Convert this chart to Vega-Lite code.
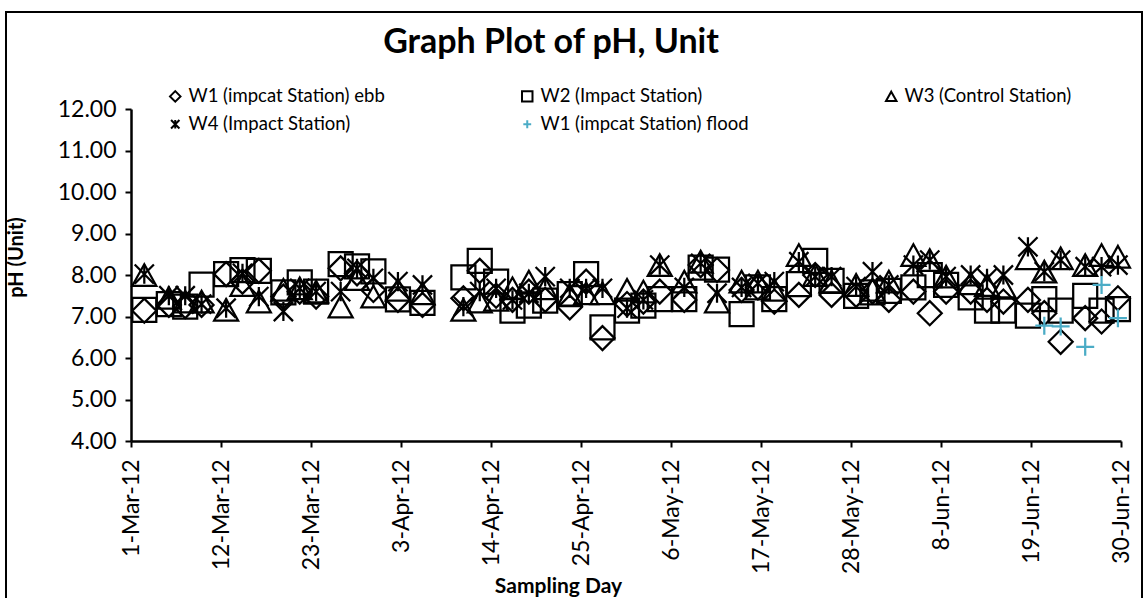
{
  "$schema": "https://vega.github.io/schema/vega-lite/v6.json",
  "width": 1136,
  "height": 590,
  "autosize": "none",
  "padding": {"left": 6, "top": 12, "right": 6, "bottom": 0},
  "background": "white",
  "title": {"text": "Graph Plot of pH, Unit", "font": "Lato", "fontSize": 34, "fontWeight": "bold", "color": "black", "anchor": "middle", "dx": -23, "offset": -75, "baseline": "alphabetic"},
  "data": {"values": [
    {"date": "2012-03-02T15:00", "W1e": 7.14, "W2": 7.16, "W3": 8.00, "W4": 8.02},
    {"date": "2012-03-05T15:00", "W1e": 7.28, "W2": 7.30, "W3": 7.45, "W4": 7.50},
    {"date": "2012-03-07T15:00", "W1e": 7.25, "W2": 7.24, "W3": 7.36, "W4": 7.50},
    {"date": "2012-03-09T15:00", "W1e": 7.28, "W2": 7.77, "W3": 7.36, "W4": 7.30},
    {"date": "2012-03-12T15:00", "W1e": 8.02, "W2": 8.02, "W3": 7.16, "W4": 7.20},
    {"date": "2012-03-14T15:00", "W1e": 7.84, "W2": 8.12, "W3": 7.76, "W4": 8.04},
    {"date": "2012-03-16T15:00", "W1e": 8.10, "W2": 8.10, "W3": 7.36, "W4": 7.48},
    {"date": "2012-03-19T15:00", "W1e": 7.48, "W2": 7.58, "W3": 7.64, "W4": 7.12},
    {"date": "2012-03-21T15:00", "W1e": 7.60, "W2": 7.82, "W3": 7.68, "W4": 7.68},
    {"date": "2012-03-23T15:00", "W1e": 7.48, "W2": 7.60, "W3": 7.60, "W4": 7.60},
    {"date": "2012-03-26T15:00", "W1e": 8.16, "W2": 8.26, "W3": 7.24, "W4": 7.60},
    {"date": "2012-03-28T15:00", "W1e": 8.04, "W2": 8.21, "W3": 7.90, "W4": 8.16},
    {"date": "2012-03-30T15:00", "W1e": 7.64, "W2": 8.09, "W3": 7.48, "W4": 7.92},
    {"date": "2012-04-02T15:00", "W1e": 7.40, "W2": 7.41, "W3": 7.64, "W4": 7.84},
    {"date": "2012-04-05T15:00", "W1e": 7.28, "W2": 7.33, "W3": 7.56, "W4": 7.76},
    {"date": "2012-04-10T15:00", "W1e": 7.44, "W2": 7.94, "W3": 7.16, "W4": 7.24},
    {"date": "2012-04-12T15:00", "W1e": 8.10, "W2": 8.34, "W3": 7.36, "W4": 7.60},
    {"date": "2012-04-14T15:00", "W1e": 7.50, "W2": 7.84, "W3": 7.40, "W4": 7.68},
    {"date": "2012-04-16T15:00", "W1e": 7.40, "W2": 7.14, "W3": 7.68, "W4": 7.40},
    {"date": "2012-04-18T15:00", "W1e": 7.60, "W2": 7.26, "W3": 7.84, "W4": 7.56},
    {"date": "2012-04-20T15:00", "W1e": 7.40, "W2": 7.38, "W3": 7.68, "W4": 7.96},
    {"date": "2012-04-23T15:00", "W1e": 7.22, "W2": 7.54, "W3": 7.52, "W4": 7.68},
    {"date": "2012-04-25T15:00", "W1e": 7.84, "W2": 8.02, "W3": 7.56, "W4": 7.68},
    {"date": "2012-04-27T15:00", "W1e": 6.48, "W2": 6.74, "W3": 7.56, "W4": 7.68},
    {"date": "2012-04-30T15:00", "W1e": 7.30, "W2": 7.14, "W3": 7.64, "W4": 7.20},
    {"date": "2012-05-02T15:00", "W1e": 7.36, "W2": 7.26, "W3": 7.60, "W4": 7.40},
    {"date": "2012-05-04T15:00", "W1e": 7.60, "W2": 7.42, "W3": 8.24, "W4": 8.24},
    {"date": "2012-05-07T15:00", "W1e": 7.40, "W2": 7.42, "W3": 7.84, "W4": 7.70},
    {"date": "2012-05-09T15:00", "W1e": 8.24, "W2": 8.18, "W3": 8.32, "W4": 8.28},
    {"date": "2012-05-11T15:00", "W1e": 8.12, "W2": 8.13, "W3": 7.36, "W4": 7.56},
    {"date": "2012-05-14T15:00", "W1e": 7.64, "W2": 7.06, "W3": 7.84, "W4": 7.70},
    {"date": "2012-05-16T15:00", "W1e": 7.70, "W2": 7.70, "W3": 7.84, "W4": 7.80},
    {"date": "2012-05-18T15:00", "W1e": 7.36, "W2": 7.42, "W3": 7.64, "W4": 7.84},
    {"date": "2012-05-21T15:00", "W1e": 7.52, "W2": 7.78, "W3": 8.48, "W4": 8.32},
    {"date": "2012-05-23T15:00", "W1e": 8.00, "W2": 8.34, "W3": 8.00, "W4": 7.96},
    {"date": "2012-05-25T15:00", "W1e": 7.52, "W2": 7.86, "W3": 7.84, "W4": 7.96},
    {"date": "2012-05-28T15:00", "W1e": 7.52, "W2": 7.50, "W3": 7.76, "W4": 7.72},
    {"date": "2012-05-30T15:00", "W1e": 7.60, "W2": 7.58, "W3": 7.64, "W4": 8.08},
    {"date": "2012-06-01T15:00", "W1e": 7.40, "W2": 7.62, "W3": 7.84, "W4": 7.76},
    {"date": "2012-06-04T15:00", "W1e": 7.60, "W2": 7.70, "W3": 8.48, "W4": 8.24},
    {"date": "2012-06-06T15:00", "W1e": 7.08, "W2": 8.00, "W3": 8.36, "W4": 8.36},
    {"date": "2012-06-08T15:00", "W1e": 7.60, "W2": 7.76, "W3": 7.96, "W4": 7.96},
    {"date": "2012-06-11T15:00", "W1e": 7.60, "W2": 7.46, "W3": 7.80, "W4": 8.00},
    {"date": "2012-06-13T15:00", "W1e": 7.40, "W2": 7.14, "W3": 7.76, "W4": 7.92},
    {"date": "2012-06-15T15:00", "W1e": 7.36, "W2": 7.14, "W3": 7.72, "W4": 8.00},
    {"date": "2012-06-18T15:00", "W1e": 7.40, "W2": 7.02, "W3": 8.40, "W4": 8.68},
    {"date": "2012-06-20T15:00", "W1e": 7.08, "W2": 7.42, "W3": 8.08, "W4": 8.08, "W1f": 6.78},
    {"date": "2012-06-22T15:00", "W1e": 6.39, "W2": 7.14, "W3": 8.40, "W4": 8.36, "W1f": 6.76},
    {"date": "2012-06-25T15:00", "W1e": 6.96, "W2": 7.50, "W3": 8.24, "W4": 8.20, "W1f": 6.27},
    {"date": "2012-06-27T15:00", "W1e": 6.88, "W2": 7.14, "W3": 8.48, "W4": 8.20, "W1f": 7.76},
    {"date": "2012-06-29T15:00", "W1e": 7.44, "W2": 7.18, "W3": 8.44, "W4": 8.24, "W1f": 6.96}
  ]},
  "transform": [
    {"fold": ["W1e", "W2", "W3", "W4", "W1f"], "as": ["series", "pH"]},
    {"filter": "isValid(datum.pH)"}
  ],
  "mark": {"type": "point", "filled": false, "size": 576, "strokeWidth": 2.25, "opacity": 1},
  "encoding": {
    "x": {
      "field": "date", "type": "temporal",
      "scale": {"domain": [{"year": 2012, "month": 3, "date": 1}, {"year": 2012, "month": 6, "date": 30}], "range": [125, 1115], "nice": false},
      "axis": {
        "offset": -161, "values": [
          {"year": 2012, "month": 3, "date": 1}, {"year": 2012, "month": 3, "date": 12}, {"year": 2012, "month": 3, "date": 23},
          {"year": 2012, "month": 4, "date": 3}, {"year": 2012, "month": 4, "date": 14}, {"year": 2012, "month": 4, "date": 25},
          {"year": 2012, "month": 5, "date": 6}, {"year": 2012, "month": 5, "date": 17}, {"year": 2012, "month": 5, "date": 28},
          {"year": 2012, "month": 6, "date": 8}, {"year": 2012, "month": 6, "date": 19}, {"year": 2012, "month": 6, "date": 30}
        ],
        "format": "%-d-%b-%y", "labelAngle": 270, "labelAlign": "right", "labelBaseline": "middle",
        "labelPadding": 12, "labelFont": "Lato", "labelFontSize": 23, "labelColor": "black",
        "labelFlush": false, "labelOverlap": false, "labelBound": false,
        "tickSize": 6, "tickWidth": 2, "tickColor": "black", "domainColor": "black", "domainWidth": 2.5,
        "grid": false, "title": "Sampling Day", "titleFont": "Lato", "titleFontSize": 21, "titleFontWeight": "bold", "titleColor": "black", "titlePadding": 2, "titleX": 552
      }
    },
    "y": {
      "field": "pH", "type": "quantitative",
      "scale": {"domain": [4, 12], "range": [429, 97], "nice": false, "zero": false},
      "axis": {
        "offset": -125, "values": [4, 5, 6, 7, 8, 9, 10, 11, 12], "format": ".2f",
        "labelPadding": 9, "labelFont": "Lato", "labelFontSize": 23, "labelColor": "black",
        "labelFlush": false, "labelOverlap": false,
        "tickSize": 6, "tickWidth": 2, "tickColor": "black", "domainColor": "black", "domainWidth": 2.5,
        "grid": false, "title": "pH (Unit)", "titleFont": "Lato", "titleFontSize": 20, "titleFontWeight": "bold", "titleColor": "black", "titlePadding": 31, "titleY": 245
      }
    },
    "shape": {
      "field": "series", "type": "nominal",
      "scale": {"domain": ["W1e", "W2", "W3", "W4", "W1f"], "range": ["diamond", "square", "M0,-0.9L1,0.9L-1,0.9Z", "M-0.8,-0.8L0.8,0.8M-0.8,0.8L0.8,-0.8M0,-0.8L0,0.8", "M-0.75,0L0.75,0M0,-0.75L0,0.75"]},
      "legend": {"orient": "none", "legendX": 160, "legendY": 75, "columns": 3, "direction": "horizontal", "gridAlign": "each", "columnPadding": 133, "rowPadding": 9, "title": null,
        "labelFont": "Lato", "labelFontSize": 18.5, "labelColor": "black", "labelOffset": 4, "labelLimit": 400, "symbolSize": 110, "symbolStrokeWidth": 2, "padding": 0,
        "labelExpr": "{'W1e': 'W1 (impcat Station) ebb', 'W2': 'W2 (Impact Station)', 'W3': 'W3 (Control Station)', 'W4': 'W4 (Impact Station)', 'W1f': 'W1 (impcat Station) flood'}[datum.label]"}
    },
    "color": {
      "field": "series", "type": "nominal",
      "scale": {"domain": ["W1e", "W2", "W3", "W4", "W1f"], "range": ["#000000", "#000000", "#000000", "#000000", "#4bacc6"]},
      "legend": {"orient": "none", "legendX": 160, "legendY": 75, "columns": 3, "direction": "horizontal", "gridAlign": "each", "columnPadding": 133, "rowPadding": 9, "title": null,
        "labelFont": "Lato", "labelFontSize": 18.5, "labelColor": "black", "labelOffset": 4, "labelLimit": 400, "symbolSize": 110, "symbolStrokeWidth": 2, "padding": 0,
        "labelExpr": "{'W1e': 'W1 (impcat Station) ebb', 'W2': 'W2 (Impact Station)', 'W3': 'W3 (Control Station)', 'W4': 'W4 (Impact Station)', 'W1f': 'W1 (impcat Station) flood'}[datum.label]"}
    }
  },
  "config": {
    "font": "Lato",
    "view": {"stroke": "black", "strokeWidth": 2}
  }
}
